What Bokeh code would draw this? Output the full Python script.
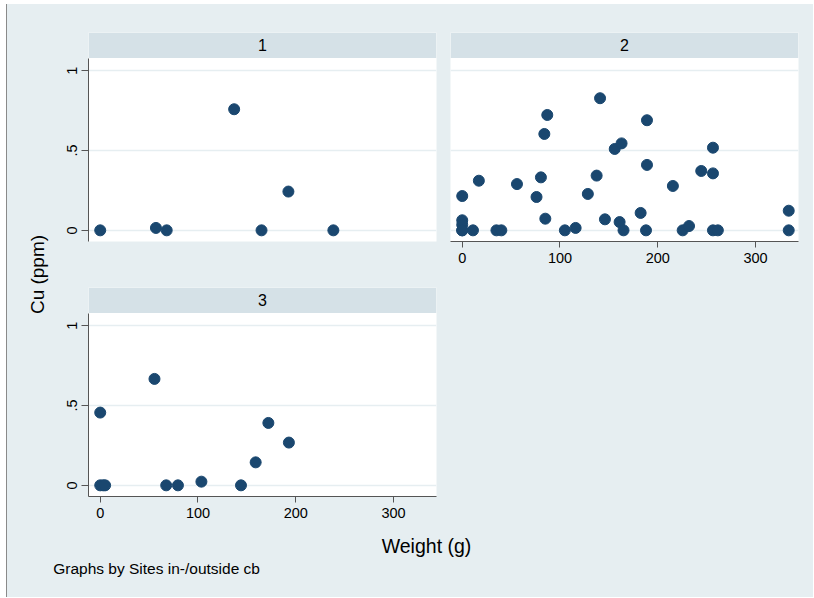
import math
from bokeh.plotting import figure
from bokeh.layouts import row, column, Spacer
from bokeh.models import FixedTicker, BoxAnnotation, Label
from bokeh.embed import file_html
from bokeh.resources import INLINE

# ---- data ----
panel_names = ["1", "2", "3"]
w1 = [0, 57, 68, 137, 165, 192.5, 238.5]
cu1 = [0, 0.015, 0, 0.759, 0, 0.243, 0]
w2 = [0, 0, 0, 0, 0, 11, 17, 35, 40, 56, 76, 80.5, 84, 87, 85, 105, 116, 128.5,
      137.5, 141, 146, 156, 163, 161, 165, 182.5, 188, 189, 189, 215.5, 225.5,
      232, 244.5, 256.5, 256.5, 256.5, 261.5, 334, 334]
cu2 = [0.215, 0.063, 0.035, 0, 0, 0, 0.311, 0, 0, 0.29, 0.209, 0.332, 0.604,
       0.723, 0.073, 0, 0.015, 0.228, 0.343, 0.828, 0.069, 0.51, 0.545, 0.052,
       0, 0.109, 0, 0.69, 0.41, 0.278, 0, 0.027, 0.372, 0.518, 0.357, 0, 0,
       0.123, 0]
w3 = [0, 0, 3, 5, 55.5, 67.5, 79.5, 103.5, 144, 159, 172, 193]
cu3 = [0.456, 0, 0, 0, 0.667, 0, 0, 0.023, 0, 0.144, 0.391, 0.268]
y_ticks = [0, 0.5, 1]
y_tick_labels = ["0", ".5", "1"]
x_ticks = [0, 100, 200, 300]
x_tick_labels = ["0", "100", "200", "300"]
x_title = "Weight (g)"
y_title = "Cu (ppm)"
note = "Graphs by Sites in-/outside cb"

# ---- style ----
BG = "#e6eef1"
STRIP = "#d5e1e7"
GRID = "#e6eef1"
NAVY = "#1a476f"
AXIS = "#555555"
FONT = "Liberation Sans"

XR = (-12, 344)
YR = (-0.07, 1.24)
STRIP_BOTTOM = 1.08


def panel(name, xs, ys, show_x, show_y, width, height, bl, br, bt, bb):
    p = figure(width=width, height=height, x_range=XR, y_range=YR,
               output_backend="svg", toolbar_location=None,
               min_border_left=bl, min_border_right=br,
               min_border_top=bt, min_border_bottom=bb)
    p.background_fill_color = "white"
    p.border_fill_color = BG
    p.outline_line_color = None
    p.xgrid.visible = False
    p.ygrid.ticker = FixedTicker(ticks=y_ticks)
    p.ygrid.grid_line_color = GRID
    p.ygrid.grid_line_width = 1.5

    ax = p.xaxis[0]
    ax.ticker = FixedTicker(ticks=x_ticks)
    ax.major_label_overrides = dict(zip(x_ticks, x_tick_labels))
    ax.minor_tick_line_color = None
    ax.major_tick_in = 0
    ax.major_tick_out = 6
    ax.major_label_standoff = 5
    ax.axis_line_color = AXIS
    ax.major_tick_line_color = AXIS
    ax.major_label_text_font = FONT
    ax.major_label_text_font_size = "14.5px"
    ax.major_label_text_color = "black"
    ax.visible = show_x

    ay = p.yaxis[0]
    ay.ticker = FixedTicker(ticks=y_ticks)
    ay.major_label_overrides = dict(zip(y_ticks, y_tick_labels))
    ay.minor_tick_line_color = None
    ay.major_tick_in = 0
    ay.major_tick_out = 7
    ay.major_label_standoff = 4
    ay.major_label_orientation = "vertical"
    ay.axis_line_color = AXIS
    ay.major_tick_line_color = AXIS
    ay.major_label_text_font = FONT
    ay.major_label_text_font_size = "14.5px"
    ay.major_label_text_color = "black"
    ay.bounds = (YR[0], STRIP_BOTTOM)
    ay.visible = show_y

    p.add_layout(BoxAnnotation(bottom=STRIP_BOTTOM, fill_color=STRIP,
                               fill_alpha=1.0, line_color=None))
    p.add_layout(Label(x=(XR[0] + XR[1]) / 2, y=(STRIP_BOTTOM + YR[1]) / 2,
                       text=name, text_align="center", text_baseline="middle",
                       text_font=FONT, text_font_size="16px",
                       text_color="black"))
    p.scatter(xs, ys, size=11, fill_color=NAVY, line_color=NAVY)
    return p


p1 = panel(panel_names[0], w1, cu1, False, True, 386, 276, 30, 8, 28, 39)
p2 = panel(panel_names[1], w2, cu2, True, False, 369, 276, 6, 15, 28, 39)
p3 = panel(panel_names[2], w3, cu3, True, True, 386, 250, 30, 8, 7, 34)


def blank(width, height):
    f = figure(width=width, height=height, x_range=(0, width),
               y_range=(0, height), output_backend="svg",
               toolbar_location=None, min_border=0)
    f.axis.visible = False
    f.grid.visible = False
    f.outline_line_color = None
    f.background_fill_color = BG
    f.border_fill_color = BG
    return f


left = blank(51, 526)
left.add_layout(Label(x=29.5, y=256, text=y_title, angle=math.pi / 2,
                      text_align="center", text_baseline="middle",
                      text_font=FONT, text_font_size="19px",
                      text_color="black"))

bottom = blank(806, 67)
bottom.add_layout(Label(x=419, y=52, text=x_title, text_align="center",
                        text_baseline="middle", text_font=FONT,
                        text_font_size="19.5px", text_color="black"))
bottom.add_layout(Label(x=45.7, y=29, text=note, text_align="left",
                        text_baseline="middle", text_font=FONT,
                        text_font_size="15.5px", text_color="black"))

grid_part = column(row(p1, p2), row(p3, Spacer(width=369, height=250)))
layout = column(row(left, grid_part), bottom,
                margin=(4, 0, 0, 6),
                styles={"background-color": BG,
                        "border-left": "1px solid #8a8a8a"})

open("out.html", "w").write(file_html(layout, INLINE))
